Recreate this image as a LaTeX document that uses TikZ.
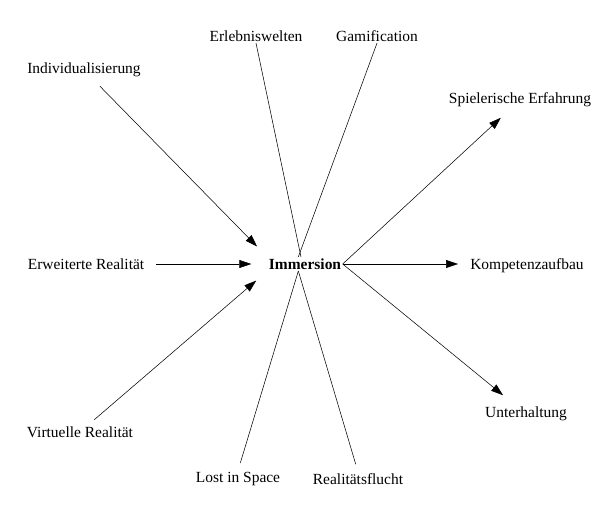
\documentclass[tikz,border=0pt]{standalone}
\usepackage{fontspec}
\setmainfont{Liberation Serif}
\usetikzlibrary{arrows.meta}
\tikzstyle{term} = [inner sep=1pt, font=\fontsize{11.6}{13}\selectfont]
\tikzstyle{line} = [draw, thin, color=black]
\tikzstyle{arrow} = [line, -{Triangle[length=9pt,width=6pt]}]
\begin{document}
\begin{tikzpicture}[x=0.75pt, y=-0.75pt]
    \useasboundingbox (0,0) rectangle (600,527);
    % Place nodes
    \node [term, font=\fontsize{11.6}{13}\selectfont\bfseries] (imm) at (305,264) {Immersion};
    \node [term] (erleb) at (256,36) {Erlebniswelten};
    \node [term] (gami) at (377,36) {Gamification};
    \node [term] (indiv) at (84,70) {Individualisierung};
    \node [term] (spiel) at (520,100) {Spielerische Erfahrung};
    \node [term] (erw) at (86,264) {Erweiterte Realität};
    \node [term] (komp) at (527,266) {Kompetenzaufbau};
    \node [term] (virt) at (80,432) {Virtuelle Realität};
    \node [term] (unter) at (526,414) {Unterhaltung};
    \node [term] (lost) at (238,479) {Lost in Space};
    \node [term] (flucht) at (358,479) {Realitätsflucht};

    % Draw edges
    \path [arrow, shorten <=8pt, shorten >=11pt] (indiv) -- (imm.north west);
    \path [arrow, shorten <=8pt, shorten >=12pt] (erw) -- (imm.west);
    \path [arrow, shorten <=6pt, shorten >=11pt] (virt) -- (imm.south west);
    \path [arrow, shorten >=10pt] (imm.east) -- (spiel);
    \path [arrow, shorten >=8pt] (imm.east) -- (imm.east -| komp.west);
    \path [arrow, shorten >=12pt] (imm.east) -- (unter);
    \path [line] (erleb.south) -- ([xshift=-3pt]imm.north);
    \path [line] (gami.south) -- ([xshift=-5pt]imm.north);
    \path [line, shorten <=6pt] (lost.north) -- ([xshift=-5pt]imm.south);
    \path [line, shorten <=6pt] (flucht.north) -- ([xshift=-5pt]imm.south);
\end{tikzpicture}
\end{document}
